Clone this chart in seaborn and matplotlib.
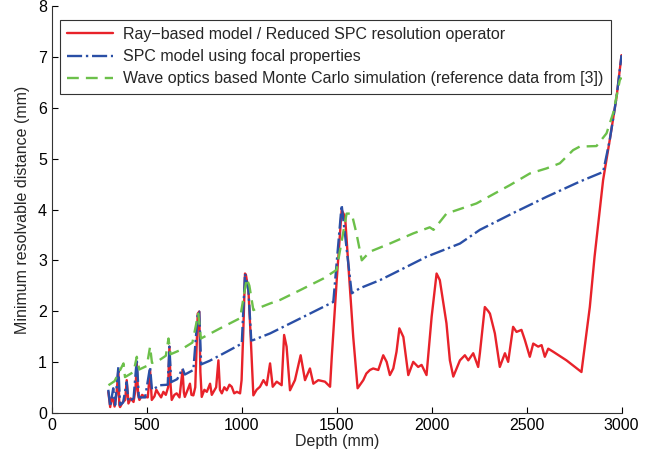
import numpy as np
import pandas as pd
import matplotlib
matplotlib.use("Agg")
import matplotlib.pyplot as plt
import seaborn as sns

# values (depth in mm, distance in mm)
ray_depth = [297, 307, 315, 323, 330, 340, 350, 355, 359, 372, 386, 394, 403, 415, 430, 440, 447, 454,
             461, 475, 491, 505, 517, 526, 540, 550, 561, 575, 587, 600, 612, 619, 625, 631, 645, 657,
             672, 688, 695, 700, 715, 727, 735, 745, 755, 768, 776, 782, 789, 803, 816, 833, 842, 851,
             865, 877, 885, 895, 908, 921, 935, 947, 960, 974, 991, 999, 1008, 1017, 1022, 1035, 1047,
             1061, 1078, 1096, 1114, 1131, 1149, 1163, 1184, 1210, 1223, 1236, 1254, 1280, 1310, 1333,
             1359, 1377, 1403, 1438, 1465, 1474, 1500, 1526, 1544, 1570, 1587, 1610, 1640, 1656, 1675,
             1692, 1719, 1745, 1763, 1780, 1798, 1815, 1830, 1851, 1877, 1903, 1929, 1947, 1973, 2000,
             2026, 2043, 2078, 2096, 2114, 2149, 2175, 2193, 2219, 2245, 2254, 2280, 2298, 2307, 2333,
             2359, 2386, 2403, 2429, 2447, 2473, 2491, 2517, 2535, 2561, 2579, 2596, 2614, 2640, 2710,
             2789, 2833, 2858, 2903, 2938, 2974, 3000]
ray_dist = [0.41, 0.11, 0.30, 0.25, 0.12, 0.35, 0.84, 0.15, 0.11, 0.20, 0.25, 0.64, 0.18, 0.28, 0.21,
            0.45, 0.97, 0.35, 0.25, 0.35, 0.31, 0.30, 0.84, 0.25, 0.32, 0.45, 0.38, 0.30, 0.41, 0.35,
            0.50, 1.30, 0.55, 0.25, 0.35, 0.38, 0.30, 0.84, 0.40, 0.31, 0.45, 0.57, 0.35, 0.34, 0.50,
            1.95, 1.99, 0.80, 0.31, 0.45, 0.41, 0.57, 0.35, 0.41, 0.50, 1.03, 0.45, 0.38, 0.50, 0.44,
            0.55, 0.51, 0.38, 0.41, 0.38, 0.64, 1.60, 2.74, 2.71, 2.41, 1.49, 0.34, 0.45, 0.51, 0.64,
            0.54, 0.97, 0.51, 0.61, 0.54, 1.53, 1.30, 0.44, 0.64, 1.13, 0.64, 0.87, 0.57, 0.64, 0.61,
            0.51, 1.10, 2.61, 3.99, 3.86, 2.41, 1.49, 0.48, 0.64, 0.77, 0.84, 0.87, 0.84, 1.13, 1.00,
            0.74, 0.87, 1.20, 1.66, 1.49, 0.74, 1.00, 0.90, 0.94, 0.74, 1.89, 2.74, 2.61, 1.76, 1.03,
            0.71, 1.03, 1.13, 1.03, 1.17, 0.90, 1.17, 2.08, 2.00, 1.95, 1.56, 0.90, 1.17, 1.00, 1.69,
            1.59, 1.63, 1.43, 1.10, 1.36, 1.30, 1.33, 1.10, 1.26, 1.20, 1.03, 0.80, 2.08, 3.07, 4.58,
            5.37, 6.22, 7.04]

spc_depth = [297, 307, 323, 333, 350, 359, 375, 394, 403, 430, 447, 458, 491, 517, 527, 570, 610, 619,
             628, 660, 688, 700, 745, 768, 776, 786, 830, 921, 1000, 1017, 1035, 1050, 1061, 1149, 1289,
             1482, 1526, 1579, 1622, 1728, 1798, 1973, 2149, 2254, 2429, 2605, 2780, 2903, 2938, 2974,
             3000]
spc_dist = [0.45, 0.12, 0.48, 0.15, 0.90, 0.15, 0.20, 0.60, 0.22, 0.28, 1.05, 0.30, 0.30, 0.90, 0.45,
            0.54, 0.55, 1.30, 0.60, 0.66, 0.87, 0.75, 0.84, 1.95, 1.99, 0.95, 1.02, 1.20, 1.36, 2.74,
            2.41, 1.42, 1.43, 1.56, 1.82, 2.18, 4.09, 2.35, 2.45, 2.61, 2.74, 3.07, 3.33, 3.60, 3.93,
            4.25, 4.55, 4.74, 5.37, 6.22, 7.04]

mc_depth = [298, 330, 377, 385, 430, 447, 460, 500, 517, 527, 552, 600, 614, 625, 675, 740, 771, 785,
            886, 991, 1026, 1040, 1061, 1149, 1202, 1306, 1429, 1499, 1552, 1579, 1604, 1632, 1675,
            1780, 1903, 1990, 2010, 2078, 2236, 2412, 2517, 2605, 2675, 2745, 2780, 2868, 2921, 2956,
            2991, 3000]
mc_dist = [0.54, 0.62, 0.97, 0.70, 0.80, 1.10, 0.85, 0.92, 1.30, 0.98, 1.00, 1.12, 1.46, 1.15, 1.23,
           1.38, 1.95, 1.46, 1.66, 1.86, 2.64, 2.50, 2.02, 2.15, 2.22, 2.41, 2.64, 2.81, 3.92, 3.92,
           3.53, 3.00, 3.17, 3.33, 3.53, 3.65, 3.60, 3.92, 4.12, 4.48, 4.71, 4.81, 4.91, 5.17, 5.24,
           5.25, 5.50, 5.90, 6.55, 6.60]

labels = ["Ray\u2212based model / Reduced SPC resolution operator",
          "SPC model using focal properties",
          "Wave optics based Monte Carlo simulation (reference data from [3])"]

sns.set_style("ticks")
plt.rcParams['font.family'] = ['Liberation Sans', 'DejaVu Sans']
plt.rcParams['font.size'] = 11.5

fig = plt.figure(figsize=(6.57, 4.59), dpi=100)
ax = fig.add_axes([0.079, 0.101, 0.867, 0.885])

sns.lineplot(x=ray_depth, y=ray_dist, ax=ax, color="#e8222a", lw=1.7, label=labels[0])
sns.lineplot(x=spc_depth, y=spc_dist, ax=ax, color="#2a4fa6", lw=1.7, linestyle="-.", label=labels[1])
sns.lineplot(x=mc_depth, y=mc_dist, ax=ax, color="#6cc04a", lw=1.7, linestyle=(0, (5, 3)), label=labels[2])

ax.set_xlim(0, 3000)
ax.set_ylim(0, 8)
ax.set_xticks(np.arange(0, 3001, 500))
ax.set_yticks(np.arange(0, 9, 1))
ax.set_xlabel("Depth (mm)", fontsize=11.5, labelpad=1)
ax.set_ylabel("Minimum resolvable distance (mm)", fontsize=11.5, labelpad=6)
ax.tick_params(direction="in", length=4, labelsize=11.5, colors="black")
sns.despine(ax=ax)
for s in ["left", "bottom"]:
    ax.spines[s].set_color("#333333")

# legend box sits just inside the top-left corner, like the MATLAB original
leg = ax.legend(loc="upper left", bbox_to_anchor=(0.014, 0.967), borderaxespad=0, fancybox=False,
                framealpha=1, edgecolor="#333333", handlelength=2.9, labelspacing=0.45, borderpad=0.45,
                handletextpad=0.6, fontsize=11.5)
leg.get_frame().set_linewidth(0.8)

fig.savefig("out.png", dpi=100)
